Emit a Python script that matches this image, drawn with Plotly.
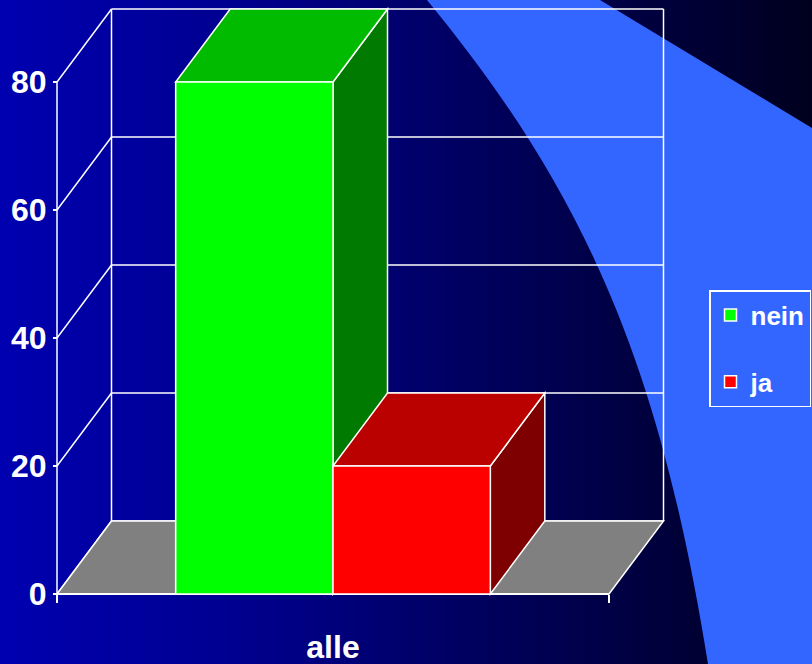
import base64
import struct
import zlib

import plotly.graph_objects as go

# ---- data -------------------------------------------------------------
categories = ["alle"]
series_names = ["nein", "ja"]
series_values = [[80], [20]]
y_ticks = [0, 20, 40, 60, 80]

# ---- styling ----------------------------------------------------------
front_colors = ["#00FF00", "#FF0000"]
top_colors = ["#00BB00", "#BB0000"]
side_colors = ["#007A00", "#7F0000"]
floor_color = "#808080"
accent_blue = "#3366FF"
FONT = "Liberation Sans, Arial, sans-serif"

W, H = 812, 664
BARGAP = 0.43

# pixel geometry of the front plane and the 3-D depth offset
FRONT_LEFT_PX = 57
SLOT_PX = 552            # width of the single category slot
ZERO_Y_PX = 594          # baseline of the front plane
PX_PER_UNIT = 6.4        # vertical scale of the value axis
DEPTH_X_PX = 54.5
DEPTH_Y_PX = 73

slot_center_px = FRONT_LEFT_PX + SLOT_PX / 2
x_range = [-slot_center_px / SLOT_PX, (W - slot_center_px) / SLOT_PX]
y_range = [-(H - ZERO_Y_PX) / PX_PER_UNIT, ZERO_Y_PX / PX_PER_UNIT]
DX = DEPTH_X_PX / SLOT_PX
DY = DEPTH_Y_PX / PX_PER_UNIT
y_top = max(y_ticks)
cat_pos = list(range(len(categories)))


def gradient_png(stops, width):
    """Horizontal 1-pixel-high RGB gradient as a PNG data URI."""
    row = bytearray([0])
    for i in range(width):
        t = i / (width - 1)
        for (t0, c0), (t1, c1) in zip(stops[:-1], stops[1:]):
            if t0 <= t <= t1:
                f = (t - t0) / (t1 - t0) if t1 > t0 else 0
                row += bytes(round(a + (b - a) * f) for a, b in zip(c0, c1))
                break

    def chunk(tag, data):
        body = tag + data
        return struct.pack(">I", len(data)) + body + struct.pack(">I", zlib.crc32(body) & 0xFFFFFFFF)

    png = (b"\x89PNG\r\n\x1a\n"
           + chunk(b"IHDR", struct.pack(">IIBBBBB", width, 1, 8, 2, 0, 0, 0))
           + chunk(b"IDAT", zlib.compress(bytes(row)))
           + chunk(b"IEND", b""))
    return "data:image/png;base64," + base64.b64encode(png).decode()


bg_stops = [
    (0.0, (0, 0, 176)),
    (0.3, (0, 0, 142)),
    (0.55, (0, 0, 100)),
    (0.8, (0, 0, 62)),
    (1.0, (0, 0, 30)),
]


def p(px, py):
    """Pixel position -> paper coordinates."""
    return px / W, 1 - py / H


def path_cmd(cmd, *pts):
    return cmd + " ".join("{},{}".format(*p(*q)) for q in pts)


# light-blue sweep on the right: curved left edge, straight upper edge
blue_path = " ".join([
    path_cmd("M", (427, 0)),
    path_cmd("C", (585, 192), (660, 364), (708, H)),
    path_cmd("L", (W, H)),
    path_cmd("L", (W, 128)),
    path_cmd("L", (600, 0)),
    "Z",
])

shapes = [dict(type="path", xref="paper", yref="paper", path=blue_path,
               fillcolor=accent_blue, line=dict(width=0), layer="below")]

LW = 1.5


def poly(pts, fill, lw=LW):
    path = "M" + " L".join(f"{x},{y}" for x, y in pts) + " Z"
    return dict(type="path", xref="x", yref="y", path=path, fillcolor=fill,
                line=dict(color="white", width=lw), layer="below")


def seg(x0, y0, x1, y1, lw=LW):
    return dict(type="line", xref="x", yref="y", x0=x0, y0=y0, x1=x1, y1=y1,
                line=dict(color="white", width=lw), layer="below")


xl, xr = cat_pos[0] - 0.5, cat_pos[-1] + 0.5
# back wall and left wall grid
for v in y_ticks:
    shapes.append(seg(xl + DX, v + DY, xr + DX, v + DY))
    shapes.append(seg(xl, v, xl + DX, v + DY))
shapes.append(seg(xl, 0, xl, y_top))
shapes.append(seg(xl + DX, DY, xl + DX, y_top + DY))
shapes.append(seg(xr + DX, DY, xr + DX, y_top + DY))
# floor
shapes.append(poly([(xl, 0), (xr, 0), (xr + DX, DY), (xl + DX, DY)], floor_color))
shapes.append(seg(xl, 0, xr, 0, lw=2))

# bar widths / offsets inside the category slot
half = (1 - BARGAP) / 2
offsets = [-half + k * half for k in range(len(series_names))]

# side and top faces of the bars
for k, vals in enumerate(series_values):
    for c, v in zip(cat_pos, vals):
        x0 = c + offsets[k]
        x1 = x0 + half
        shapes.append(poly([(x1, 0), (x1, v), (x1 + DX, v + DY), (x1 + DX, DY)], side_colors[k]))
        shapes.append(poly([(x0, v), (x1, v), (x1 + DX, v + DY), (x0 + DX, v + DY)], top_colors[k]))

fig = go.Figure()
for k, name in enumerate(series_names):
    fig.add_trace(go.Bar(
        x=cat_pos, y=series_values[k], name=name, legendgroup=name,
        width=half, offset=offsets[k],
        marker=dict(color=front_colors[k], line=dict(color="white", width=1.5)),
        hoverinfo="skip",
    ))

tick_font = dict(size=32, family=FONT, color="white", weight="bold")

fig.update_layout(
    width=W, height=H, margin=dict(l=0, r=0, t=0, b=0, autoexpand=False),
    paper_bgcolor="#000050", plot_bgcolor="rgba(0,0,0,0)",
    barmode="overlay",
    showlegend=True, hovermode=False,
    font=dict(family=FONT, color="white", size=26, weight="bold"),
    images=[dict(source=gradient_png(bg_stops, W), xref="paper", yref="paper",
                 x=0, y=1, sizex=1, sizey=1, xanchor="left", yanchor="top",
                 sizing="stretch", layer="below")],
    shapes=shapes,
    xaxis=dict(range=x_range, anchor="free", automargin=False,
               position=(H - ZERO_Y_PX) / H, showgrid=False, zeroline=False,
               showline=False, tickmode="array", tickvals=cat_pos,
               ticktext=categories, ticks="", ticklen=0, ticklabelstandoff=31,
               minor=dict(tickmode="array", tickvals=[xl, xr], ticks="outside",
                          ticklen=8, tickcolor="white", tickwidth=1.5,
                          showgrid=False),
               tickfont=tick_font),
    yaxis=dict(range=y_range, anchor="free", position=FRONT_LEFT_PX / W,
               automargin=False, tickvals=y_ticks, showgrid=False,
               zeroline=False, showline=False, ticks="outside", ticklen=4,
               tickcolor="white", tickwidth=1.5, ticklabelstandoff=0,
               tickfont=tick_font),
    legend=dict(x=709 / W, y=1 - 290 / H, xanchor="left", yanchor="top",
                bgcolor="rgba(0,0,0,0)", bordercolor="white", borderwidth=1.5,
                traceorder="grouped", tracegroupgap=30,
                font=dict(size=26, family=FONT, color="white", weight="bold")),
)

fig.write_html("out.html")
